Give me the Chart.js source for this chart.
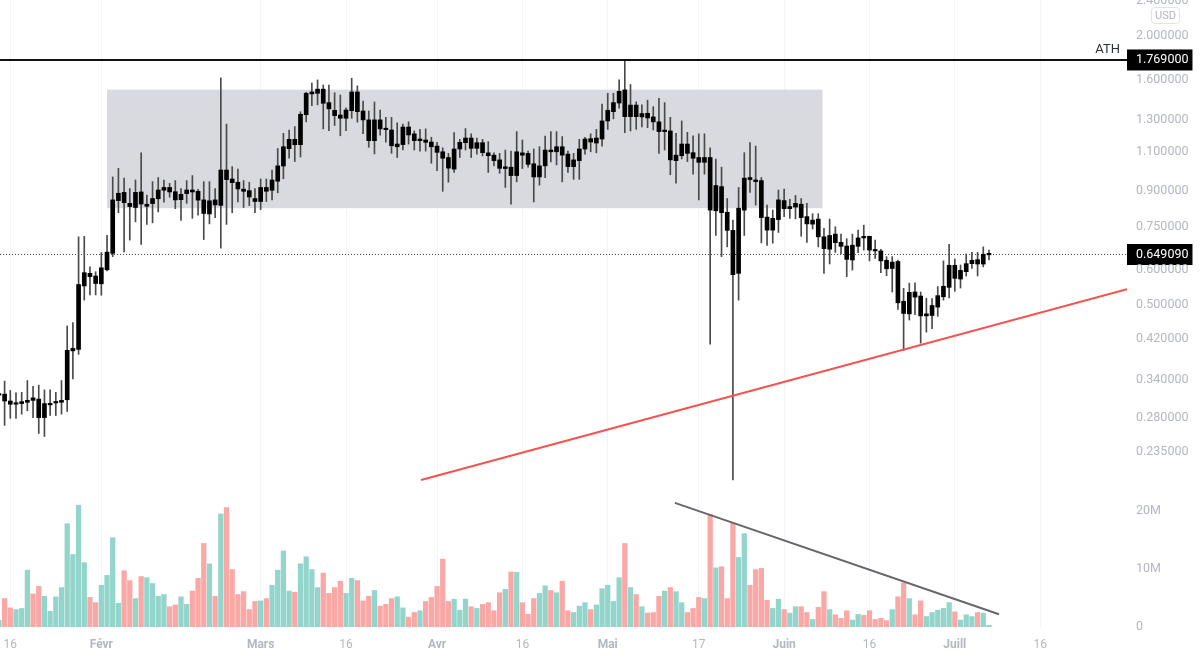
<!DOCTYPE html>
<html>
<head>
<meta charset="utf-8">
<script src="https://cdn.jsdelivr.net/npm/chart.js@4"></script>
<style>
  html, body { margin: 0; padding: 0; background: #fff; }
  canvas { display: block; }
</style>
</head>
<body>
<canvas id="myChart" width="1200" height="657"></canvas>
<script>
// daily candles, first one is 14 Jan (day 13 of the year)
let firstDay = 13;

let opens = [
  .3145,.316,.305,.300,.301,.303,.310,.308,.280,.299,
  .302,.303,.307,.395,.398,.552,.589,.581,.558,.600,
  .653,.857,.894,.845,.827,.896,.832,.844,.865,.904,
  .917,.897,.861,.888,.905,.899,.860,.800,.860,.836,
  1.003,.958,.942,.909,.902,.866,.853,.917,.904,.947,
  1.024,1.120,1.175,1.143,1.334,1.485,1.490,1.522,1.420,1.365,
  1.332,1.310,1.362,1.500,1.360,1.299,1.167,1.299,1.242,1.233,
  1.131,1.144,1.252,1.209,1.167,1.171,1.159,1.135,1.102,1.070,
  1.008,1.118,1.155,1.183,1.122,1.155,1.096,1.083,1.057,1.011,
  1.018,.975,1.096,1.093,1.036,.968,1.025,1.112,1.102,1.131,
  1.089,1.021,1.053,1.118,1.179,1.153,1.177,1.292,1.355,1.417,
  1.516,1.321,1.402,1.319,1.344,1.319,1.286,1.223,1.227,1.053,
  1.080,1.147,1.097,1.070,1.044,1.070,.813,.921,.807,.735,
  .589,.816,.965,.953,.950,.787,.736,.777,.857,.822,
  .829,.841,.789,.759,.779,.711,.667,.721,.691,.678,
  .631,.677,.711,.713,.665,.661,.630,.604,.626,.510,
  .478,.535,.524,.473,.474,.495,.522,.548,.614,.572,
  .594,.619,.632,.618,.648
];
let closes = [
  .316,.305,.300,.301,.304,.306,.306,.280,.301,.301,
  .304,.306,.396,.400,.556,.591,.579,.559,.606,.657,
  .860,.890,.848,.831,.894,.842,.841,.866,.905,.917,
  .896,.860,.885,.905,.896,.859,.802,.856,.838,1.003,
  .955,.940,.910,.899,.873,.853,.917,.899,.953,1.025,
  1.131,1.175,1.143,1.337,1.490,1.500,1.522,1.415,1.375,1.328,
  1.310,1.367,1.500,1.355,1.299,1.167,1.299,1.240,1.235,1.137,
  1.147,1.252,1.202,1.167,1.177,1.157,1.131,1.099,1.066,1.013,
  1.118,1.157,1.183,1.122,1.155,1.097,1.080,1.053,1.012,1.020,
  .975,1.102,1.083,1.033,.968,1.025,1.112,1.102,1.131,1.083,
  1.021,1.057,1.118,1.177,1.159,1.183,1.292,1.365,1.420,1.505,
  1.321,1.402,1.321,1.342,1.312,1.286,1.223,1.229,1.057,1.083,
  1.147,1.093,1.066,1.044,1.070,.816,.926,.805,.735,.585,
  .824,.962,.955,.945,.785,.736,.782,.860,.822,.831,
  .845,.785,.760,.775,.711,.669,.716,.690,.677,.633,
  .681,.707,.707,.664,.661,.628,.603,.624,.506,.479,
  .534,.521,.473,.478,.499,.525,.551,.614,.574,.598,
  .619,.630,.618,.650,.649
];
let highs = [
  .319,.338,.322,.318,.319,.339,.329,.331,.323,.323,
  .319,.339,.449,.457,.711,.713,.609,.594,.656,.716,
  .968,1.012,.962,.912,.953,1.096,.882,.945,.965,.953,
  .937,.950,.912,.950,.975,.908,.945,.945,.912,1.613,
  1.271,1.021,1.008,.950,.942,.912,.958,.958,1.003,1.121,
  1.212,1.233,1.255,1.355,1.498,1.570,1.596,1.555,1.555,1.494,
  1.477,1.383,1.610,1.548,1.432,1.360,1.425,1.367,1.316,1.316,
  1.280,1.272,1.286,1.227,1.237,1.240,1.188,1.157,1.125,1.093,
  1.216,1.175,1.242,1.209,1.183,1.175,1.161,1.096,1.093,1.112,
  1.106,1.223,1.171,1.106,1.118,1.131,1.195,1.223,1.223,1.192,
  1.106,1.093,1.175,1.188,1.209,1.237,1.410,1.490,1.490,1.596,
  1.769,1.559,1.425,1.404,1.438,1.391,1.452,1.420,1.316,1.212,
  1.292,1.218,1.197,1.209,1.209,1.125,1.061,1.018,.866,.775,
  .917,1.097,1.155,1.135,.965,.837,.816,.905,.909,.863,
  .880,.866,.845,.801,.801,.743,.779,.749,.721,.704,
  .721,.736,.755,.713,.699,.667,.642,.642,.631,.545,
  .560,.561,.535,.518,.517,.550,.628,.684,.634,.615,
  .651,.656,.656,.675,.664
];
let lows = [
  .312,.269,.279,.279,.285,.290,.280,.258,.254,.283,
  .283,.285,.289,.342,.388,.513,.527,.527,.526,.596,
  .642,.805,.658,.699,.768,.684,.758,.764,.808,.850,
  .872,.822,.774,.845,.782,.795,.701,.760,.785,.671,
  .758,.805,.851,.827,.835,.805,.818,.853,.860,.892,
  .959,1.066,1.048,1.073,1.286,1.397,1.404,1.240,1.229,1.262,
  1.197,1.229,1.310,1.284,1.210,1.128,1.090,1.200,1.158,1.093,
  1.070,1.112,1.147,1.112,1.106,1.106,1.039,1.000,.899,.942,
  .991,1.070,1.112,1.070,1.089,1.079,.991,1.025,.986,.917,
  .841,.944,1.011,1.018,.851,.928,.965,1.046,1.030,.944,
  .991,.956,.956,1.089,1.102,1.096,1.135,1.237,1.306,1.379,
  1.216,1.227,1.237,1.252,1.248,1.233,1.093,1.112,.979,.937,
  1.062,1.048,.982,.860,.982,.409,.716,.642,.675,.203,
  .513,.716,.894,.837,.689,.680,.688,.727,.789,.782,
  .780,.713,.691,.740,.675,.589,.618,.656,.651,.579,
  .599,.655,.664,.628,.636,.591,.582,.535,.489,.396,
  .463,.476,.411,.435,.443,.472,.513,.519,.537,.546,
  .581,.604,.581,.609,.631
];
// volume in millions
let volumes = [
  1.15,4.9,3.3,3.0,3.2,9.8,5.7,7.0,5.3,2.7,
  5.2,6.8,17.8,12.5,21,11.1,5.1,4.2,7.2,8.9,
  15.4,4.1,9.7,8.0,4.9,8.7,8.5,7.5,5.3,5.6,
  3.5,3.8,5.2,3.9,6.2,8.4,14.4,10.9,5.3,19.5,
  20.6,9.9,5.6,6.1,3.0,4.4,4.5,4.9,7.2,9.8,
  13.1,6.2,6.0,10.9,12.1,9.9,6.8,9.3,5.8,6.8,
  7.9,5.8,8.4,8.0,4.5,5.3,6.3,3.6,3.9,4.9,
  5.2,3.3,1.7,2.5,2.8,4.4,5.1,7.0,11.7,4.4,
  4.8,2.9,4.8,3.5,3.2,3.9,4.2,2.8,5.9,6.5,
  9.5,9.4,4.2,2.2,4.9,5.8,7.1,6.3,5.9,7.9,
  2.8,2.5,3.6,4.2,3.0,3.8,6.6,7.2,4.4,8.5,
  14.4,6.8,5.6,3.5,2.4,2.5,5.3,6.2,6.8,6.1,
  4.2,2.5,3.2,5.1,4.9,19.4,10.2,10.4,4.9,17.9,
  12.0,16.1,7.2,9.9,10.1,4.6,3.2,4.8,3.0,2.4,
  3.5,3.5,2.5,1.3,3.4,6.1,3.0,2.1,1.5,2.8,
  1.2,2.2,2.0,2.8,1.3,1.5,1.1,3.0,5.2,7.6,
  4.9,2.1,4.5,1.8,2.5,2.9,3.2,4.2,2.6,1.2,
  2.1,1.8,2.5,2.4,0.3
];

let tickDays = [15, 31, 59, 74, 90, 105, 120, 136, 151, 166, 181, 196];
let tickLabels = ['16', 'Févr', 'Mars', '16', 'Avr', '16', 'Mai', '17', 'Juin', '16', 'Juill', '16'];
let priceTicks = [2.4, 2, 1.769, 1.6, 1.3, 1.1, 0.9, 0.75, 0.64909, 0.6, 0.5, 0.42, 0.34, 0.28, 0.235];
let volumeTicks = [0, 10, 20];

let athPrice = 1.769;
let lastPrice = 0.64909;
let rangeDays = [32, 157.74];
let rangePrices = [0.824, 1.518];
let supportDays = [87.18, 211.26];
let supportPrices = [0.203, 0.543];
let volumeLineDays = [131.8, 188.76];
let volumeLineValues = [21.4, 2.2];

let minDay = 13.19;
let maxDay = 211.26;

let bodies = [];
let wicks = [];
let volumeBars = [];
let volumeColors = [];
opens.forEach(function (open, i) {
  let day = firstDay + i;
  bodies.push({ x: day, y: [open, closes[i]] });
  wicks.push({ x: day, y: [lows[i], highs[i]] });
  volumeBars.push({ x: day, y: volumes[i] });
  volumeColors.push(closes[i] >= open ? '#93d5cb' : '#faa8a6');
});

// grey range box and the ATH / USD texts
let extras = {
  id: 'extras',
  beforeDatasetsDraw(chart) {
    let { ctx, scales } = chart;
    let left = scales.x.getPixelForValue(rangeDays[0]);
    let right = scales.x.getPixelForValue(rangeDays[1]);
    let top = scales.y.getPixelForValue(rangePrices[1]);
    let bottom = scales.y.getPixelForValue(rangePrices[0]);
    ctx.save();
    ctx.fillStyle = '#d9dadf';
    ctx.fillRect(left, top, right - left, bottom - top);
    ctx.restore();
  },
  afterDraw(chart) {
    let { ctx, scales } = chart;
    ctx.save();
    ctx.fillStyle = '#2a2e39';
    ctx.font = '13px Roboto';
    ctx.textAlign = 'right';
    ctx.textBaseline = 'bottom';
    ctx.fillText('ATH', scales.x.right - 7, scales.y.getPixelForValue(athPrice) - 4);

    ctx.strokeStyle = '#e0e3eb';
    ctx.lineWidth = 1;
    ctx.beginPath();
    ctx.roundRect(1151.5, 7.5, 28, 16, 3);
    ctx.stroke();
    ctx.fillStyle = '#b2b5be';
    ctx.font = '11px Roboto';
    ctx.textAlign = 'center';
    ctx.textBaseline = 'middle';
    ctx.fillText('USD', 1165.5, 16);
    ctx.restore();
  },
};

let fixWidth = function (scale) {
  scale.width = 73;
  scale.paddingTop = 0;
  scale.paddingBottom = 0;
};

let isBadge = function (value) {
  return value === athPrice || value === lastPrice;
};

let myChart = document.getElementById('myChart').getContext('2d');
let chart = new Chart(myChart, {
  type: 'bar',
  data: {
    datasets: [
      {
        type: 'line',
        data: [{ x: minDay, y: athPrice }, { x: maxDay, y: athPrice }],
        yAxisID: 'y',
        borderColor: '#111',
        borderWidth: 2,
        pointRadius: 0,
        order: 1,
      },
      {
        type: 'line',
        data: [{ x: minDay, y: lastPrice }, { x: maxDay, y: lastPrice }],
        yAxisID: 'y',
        borderColor: '#444',
        borderWidth: 1,
        borderDash: [1, 2],
        pointRadius: 0,
        order: 5,
      },
      {
        type: 'line',
        data: [{ x: supportDays[0], y: supportPrices[0] }, { x: supportDays[1], y: supportPrices[1] }],
        yAxisID: 'y',
        borderColor: '#f7524f',
        borderWidth: 2,
        pointRadius: 0,
        order: 1,
      },
      {
        type: 'line',
        data: [{ x: volumeLineDays[0], y: volumeLineValues[0] }, { x: volumeLineDays[1], y: volumeLineValues[1] }],
        yAxisID: 'vol',
        borderColor: '#66666c',
        borderWidth: 2,
        pointRadius: 0,
        order: 1,
      },
      {
        data: bodies,
        yAxisID: 'y',
        backgroundColor: '#000',
        barThickness: 4,
        minBarLength: 1.5,
        grouped: false,
        order: 2,
      },
      {
        data: wicks,
        yAxisID: 'y',
        backgroundColor: '#4a4a4a',
        barThickness: 1,
        grouped: false,
        order: 3,
      },
      {
        data: volumeBars,
        yAxisID: 'vol',
        backgroundColor: volumeColors,
        barThickness: 4.6,
        grouped: false,
        order: 4,
      },
    ],
  },
  plugins: [extras],
  options: {
    responsive: false,
    animation: false,
    layout: { padding: 0 },
    plugins: {
      legend: { display: false },
      tooltip: { enabled: false },
    },
    scales: {
      x: {
        type: 'linear',
        min: minDay,
        max: maxDay,
        offset: false,
        bounds: 'data',
        border: { display: false },
        grid: { color: '#f2f5f8', offset: false, drawTicks: false },
        afterBuildTicks: (scale) => {
          scale.ticks = tickDays.map((value) => ({ value: value }));
        },
        afterFit: (scale) => {
          scale.height = 30;
          scale.paddingLeft = 0;
          scale.paddingRight = 0;
        },
        ticks: {
          autoSkip: false,
          maxRotation: 0,
          padding: 11,
          color: '#b4b7c1',
          font: (ctx) => ({
            family: 'Roboto',
            size: 12,
            weight: isNaN(tickLabels[ctx.index]) ? 'bold' : 'normal',
          }),
          callback: (value, i) => tickLabels[i],
        },
      },
      y: {
        type: 'logarithmic',
        position: 'right',
        stack: 'right',
        stackWeight: 490,
        min: 0.1928,
        max: 2.4098,
        bounds: 'data',
        border: { display: false },
        grid: { display: false, drawTicks: false },
        afterBuildTicks: (scale) => {
          scale.ticks = priceTicks.map((value) => ({ value: value }));
        },
        afterFit: fixWidth,
        ticks: {
          autoSkip: false,
          padding: 9,
          font: { family: 'Roboto', size: 12.5 },
          color: (ctx) => (isBadge(ctx.tick.value) ? '#fff' : '#b4b7c1'),
          showLabelBackdrop: (ctx) => isBadge(ctx.tick.value),
          backdropColor: '#000',
          backdropPadding: { top: 3, bottom: 3, left: 9, right: 4 },
          callback: (value) => value.toFixed(6),
        },
      },
      vol: {
        type: 'linear',
        position: 'right',
        stack: 'right',
        stackWeight: 137,
        min: 0,
        max: 23.62,
        bounds: 'data',
        border: { display: false },
        grid: { display: false, drawTicks: false },
        afterBuildTicks: (scale) => {
          scale.ticks = volumeTicks.map((value) => ({ value: value }));
        },
        afterFit: fixWidth,
        ticks: {
          autoSkip: false,
          padding: 9,
          font: { family: 'Roboto', size: 12.5 },
          color: '#b4b7c1',
          callback: (value) => (value === 0 ? '0' : value + 'M'),
        },
      },
    },
  },
});
</script>
</body>
</html>
